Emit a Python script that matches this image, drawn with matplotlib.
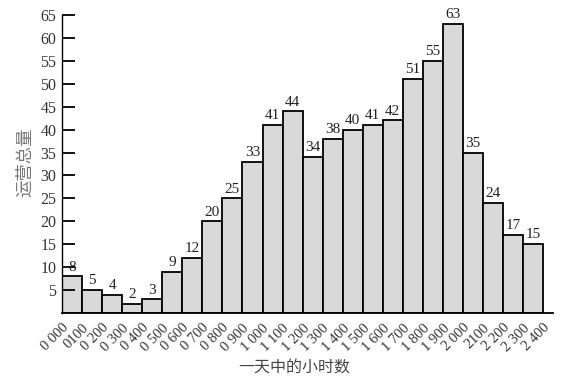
import matplotlib
matplotlib.use("Agg")
import matplotlib.pyplot as plt
import numpy as np

hours = ["0 000", "0100", "0 200", "0 300", "0 400", "0 500", "0 600", "0 700",
         "0 800", "0 900", "1 000", "1 100", "1 200", "1 300", "1 400", "1 500",
         "1 600", "1 700", "1 800", "1 900", "2 000", "2100", "2 200", "2 300", "2 400"]
volume = [8, 5, 4, 2, 3, 9, 12, 20, 25, 33, 41, 44, 34, 38, 40, 41, 42, 51, 55, 63,
          35, 24, 17, 15]
y_ticks = [5, 10, 15, 20, 25, 30, 35, 40, 45, 50, 55, 60, 65]

plt.rcParams['font.family'] = ['Liberation Serif', 'Noto Sans CJK SC']

fig = plt.figure(figsize=(5.66, 3.85), dpi=100)
ax = fig.add_axes([0.1095, 0.187, 0.868, 0.774])

x = np.arange(len(volume))
bars = ax.bar(x, volume, width=1.0, align='edge', color='#d9d9d9',
              edgecolor='black', linewidth=1.3)

# valores encima de cada barra
for b, v in zip(bars, volume):
    ax.text(b.get_x() + b.get_width() / 2, v + 0.6, str(v),
            ha='center', va='bottom', fontsize=11, color='#222222')

ax.set_xlim(0, 24.5)
ax.set_ylim(0, 65)
ax.set_yticks(y_ticks)
ax.set_yticklabels([str(t) for t in y_ticks], fontsize=11.5, color='#333333')
ax.tick_params(axis='y', direction='in', length=9, width=1.3, pad=4)

ax.set_xticks(np.arange(len(hours)))
ax.set_xticklabels(hours, rotation=45, ha='right', va='top',
                   rotation_mode='anchor', fontsize=10.5, color='#333333')
ax.tick_params(axis='x', length=0, pad=6)

ax.spines['top'].set_visible(False)
ax.spines['right'].set_visible(False)
ax.spines['left'].set_linewidth(1.0)
ax.spines['bottom'].set_linewidth(1.3)

fig.text(0.52, 0.045, '一天中的小时数', ha='center', va='center',
         fontsize=11.5, color='#444444', family='Noto Sans CJK SC')
fig.text(0.045, 0.578, '运营总量', ha='center', va='center', rotation=90,
         fontsize=12.5, color='#777777', family='Noto Sans CJK SC')

fig.savefig('out.png', dpi=100)
